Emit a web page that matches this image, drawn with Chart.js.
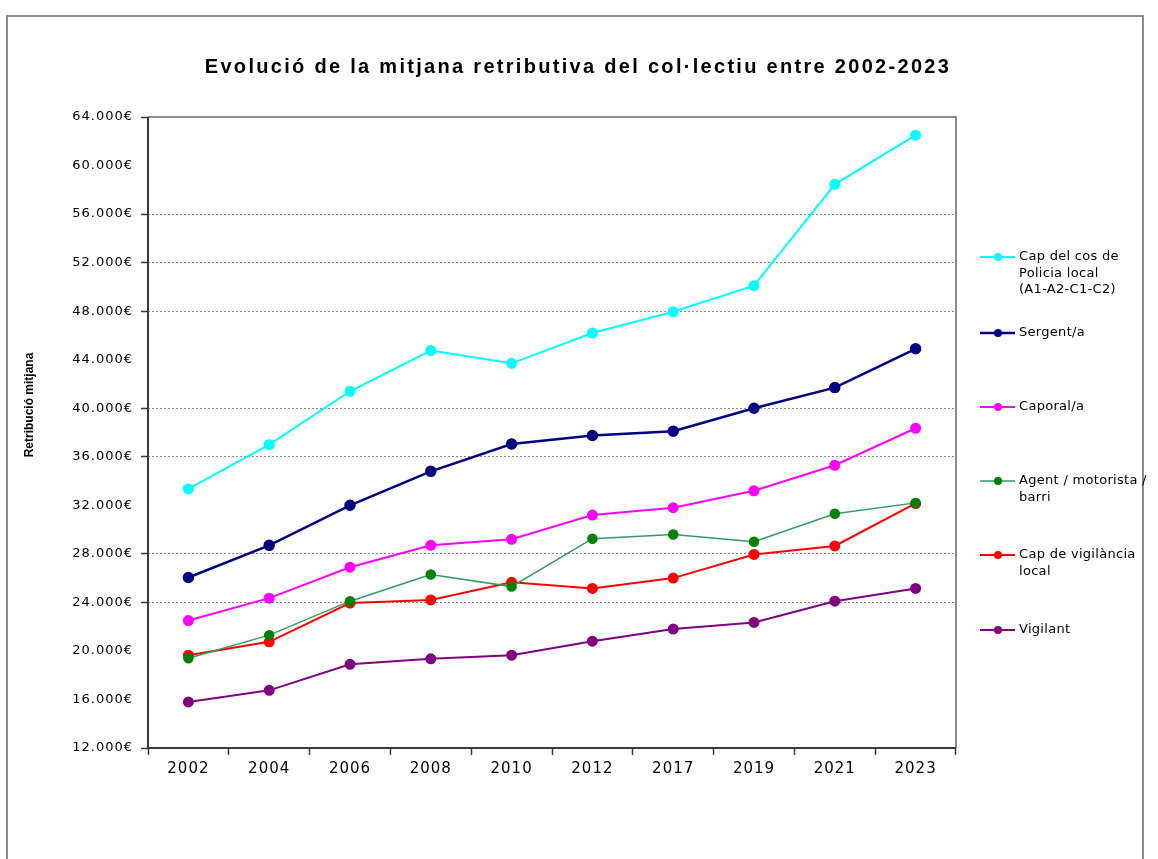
<!DOCTYPE html>
<html>
<head>
<meta charset="utf-8">
<script src="https://cdn.jsdelivr.net/npm/chart.js@4.4.1/dist/chart.umd.min.js"></script>
<style>
  body { margin: 0; background: #fff; }
  #wrap { position: relative; width: 1158px; height: 859px; }
</style>
</head>
<body>
<div id="wrap"><canvas id="chart" width="1158" height="859"></canvas></div>
<script>
// data
var years = ["2002", "2004", "2006", "2008", "2010", "2012", "2017", "2019", "2021", "2023"];
var capCos = [33350, 37000, 41400, 44750, 43700, 46200, 47950, 50100, 58450, 62500];
var sergent = [26050, 28700, 32000, 34800, 37050, 37750, 38100, 40000, 41700, 44900];
var caporal = [22500, 24350, 26900, 28700, 29200, 31200, 31800, 33200, 35300, 38350];
var agent = [19400, 21300, 24100, 26300, 25300, 29250, 29600, 29000, 31300, 32200];
var capVig = [19650, 20750, 23950, 24200, 25650, 25150, 26000, 27950, 28650, 32150];
var vigilant = [15800, 16750, 18900, 19350, 19650, 20800, 21800, 22350, 24100, 25150];

var seriesNames = [
  ["Cap del cos de", "Policia local", "(A1-A2-C1-C2)"],
  ["Sergent/a"],
  ["Caporal/a"],
  ["Agent / motorista /", "barri"],
  ["Cap de vigilància", "local"],
  ["Vigilant"]
];
var yMin = 12000, yMax = 64000, yStep = 4000;
// grid lines that show up in the reference
var gridShown = [24000, 28000, 36000, 40000, 48000, 52000, 56000];

var titleText = "Evolució de la mitjana retributiva del col·lectiu entre 2002-2023";
var yTitleText = "Retribució mitjana";

var SANS = "'Liberation Sans', Arial, sans-serif";
var WIDE = "'DejaVu Sans', sans-serif";

function euro(v) {
  var k = Math.floor(v / 1000);
  var r = String(v % 1000);
  while (r.length < 3) r = "0" + r;
  return k + "." + r + "€";
}

function makeSet(i, values, line, marker, width) {
  return {
    label: seriesNames[i].join(" "),
    data: values,
    borderColor: line,
    backgroundColor: marker,
    pointBackgroundColor: marker,
    pointBorderColor: marker,
    borderWidth: width,
    pointRadius: 4.5,
    pointHoverRadius: 4.5,
    tension: 0
  };
}

var datasets = [
  makeSet(0, capCos, "#00FFFF", "#00FFFF", 2),
  makeSet(1, sergent, "#000080", "#000080", 2.5),
  makeSet(2, caporal, "#FF00FF", "#FF00FF", 2),
  makeSet(3, agent, "#339966", "#008000", 1.5),
  makeSet(4, capVig, "#FF0000", "#FF0000", 2),
  makeSet(5, vigilant, "#800080", "#800080", 2)
];

// frame, axis lines, titles and the legend on the right
var decor = {
  id: "decor",
  beforeDraw: function (chart) {
    // tick labels in the reference are set a little loose
    chart.ctx.letterSpacing = "1px";
  },
  beforeDatasetsDraw: function (chart) {
    var ctx = chart.ctx, a = chart.chartArea;
    ctx.letterSpacing = "0px";
    ctx.save();
    ctx.lineWidth = 2;
    ctx.strokeStyle = "#8c8c8c";
    ctx.beginPath();
    ctx.moveTo(a.left, a.top);
    ctx.lineTo(a.right, a.top);
    ctx.lineTo(a.right, a.bottom);
    ctx.stroke();
    ctx.strokeStyle = "#3a3a3a";
    ctx.beginPath();
    ctx.moveTo(a.left, a.top);
    ctx.lineTo(a.left, a.bottom);
    ctx.lineTo(a.right, a.bottom);
    ctx.stroke();
    ctx.restore();
  },
  afterDraw: function (chart) {
    var ctx = chart.ctx;
    ctx.save();
    // outer frame
    ctx.strokeStyle = "#8c8c8c";
    ctx.lineWidth = 2;
    ctx.strokeRect(7, 16, 1136, 900);

    // chart title
    ctx.fillStyle = "#000";
    ctx.font = "bold 20px " + SANS;
    ctx.letterSpacing = "2.3px";
    ctx.textAlign = "center";
    ctx.textBaseline = "middle";
    ctx.fillText(titleText, 578, 67);
    ctx.letterSpacing = "0px";

    // y axis title
    ctx.save();
    ctx.translate(30, 405);
    ctx.rotate(-Math.PI / 2);
    ctx.font = "bold 12px " + SANS;
    ctx.fillText(yTitleText, 0, 0);
    ctx.restore();

    // legend
    var rows = [257, 333, 407, 481, 555, 630];
    ctx.font = "13px " + WIDE;
    ctx.letterSpacing = "0.3px";
    ctx.textAlign = "left";
    chart.data.datasets.forEach(function (ds, i) {
      var y = rows[i];
      ctx.strokeStyle = ds.borderColor;
      ctx.lineWidth = ds.borderWidth;
      ctx.beginPath();
      ctx.moveTo(980, y);
      ctx.lineTo(1015, y);
      ctx.stroke();
      ctx.fillStyle = ds.pointBackgroundColor;
      ctx.beginPath();
      ctx.arc(998, y, 4, 0, Math.PI * 2);
      ctx.fill();
      ctx.fillStyle = "#000";
      seriesNames[i].forEach(function (t, j) {
        ctx.fillText(t, 1019, y + j * 16.5);
      });
    });
    ctx.letterSpacing = "0px";
    ctx.restore();
  }
};

new Chart(document.getElementById("chart"), {
  type: "line",
  data: { labels: years, datasets: datasets },
  plugins: [decor],
  options: {
    responsive: false,
    animation: false,
    layout: { padding: { left: 0, right: 202, top: 117, bottom: 81 } },
    plugins: {
      legend: { display: false },
      tooltip: { enabled: false },
      title: { display: false }
    },
    scales: {
      x: {
        offset: true,
        afterFit: function (axis) { axis.height = 30; },
        border: { display: false },
        grid: {
          offset: true,
          drawOnChartArea: false,
          drawTicks: true,
          tickLength: 7,
          tickColor: "#3a3a3a",
          tickWidth: 1.5
        },
        ticks: {
          color: "#000",
          padding: 5,
          maxRotation: 0,
          font: { family: WIDE, size: 15 }
        }
      },
      y: {
        min: yMin,
        max: yMax,
        afterFit: function (axis) { axis.width = 148; },
        border: { display: false, dash: [2, 2] },
        grid: {
          drawTicks: true,
          tickLength: 7,
          tickWidth: 1.5,
          lineWidth: 1,
          color: function (c) {
            return gridShown.indexOf(c.tick && c.tick.value) >= 0 ? "#8a8a8a" : "rgba(0,0,0,0)";
          },
          tickColor: function (c) {
            var v = c.tick && c.tick.value;
            return (gridShown.indexOf(v) >= 0 || v === yMin || v === yMax) ? "#3a3a3a" : "rgba(0,0,0,0)";
          }
        },
        ticks: {
          stepSize: yStep,
          color: "#000",
          padding: 8,
          font: { family: WIDE, size: 13 },
          callback: function (v) { return euro(v); }
        }
      }
    }
  }
});
</script>
</body>
</html>
